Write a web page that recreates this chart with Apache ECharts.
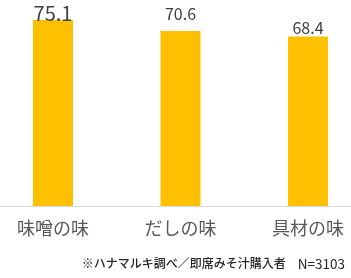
<!DOCTYPE html>
<html><head><meta charset="utf-8">
<script src="https://cdn.jsdelivr.net/npm/echarts@6/dist/echarts.min.js"></script>
<style>html,body{margin:0;padding:0;background:#fff}#c{width:351px;height:278px}</style>
</head><body><div id="c"></div>
<script>
const categories = ['味噌の味', 'だしの味', '具材の味'];
const values = [75.1, 70.6, 68.4];
const noteSource = '※ハナマルキ調べ／即席みそ汁購入者';
const noteN = 'N=3103';

const labelStyles = [
  {fontSize: 20, distance: -3},
  {fontSize: 16, distance: 9},
  {fontSize: 16, distance: 1}
];

const chart = echarts.init(document.getElementById('c'));
chart.setOption({
  animation: false,
  grid: {left: -10.75, width: 382.5, top: 7.8, bottom: 72, outerBoundsMode: 'none', containLabel: false},
  xAxis: {
    type: 'category', data: categories,
    axisLine: {lineStyle: {color: '#d9d9d9', width: 1}},
    axisTick: {show: false},
    axisLabel: {color: '#595959', fontSize: 18, margin: 13, fontFamily: 'Noto Sans CJK JP'}
  },
  yAxis: {type: 'value', min: 0, max: 80, show: false, splitLine: {show: false}},
  series: [{
    type: 'bar', barWidth: 40,
    itemStyle: {color: '#FFC000'},
    data: values.map((v, i) => ({
      value: v,
      label: {show: true, position: 'top', distance: labelStyles[i].distance,
        fontSize: labelStyles[i].fontSize, color: '#404040', fontFamily: 'Noto Sans CJK JP'}
    }))
  }],
  graphic: [{
    type: 'text', right: 6, top: 257,
    style: {
      text: '{a|' + noteSource + '}{b|    ' + noteN + '}',
      fill: '#262626',
      rich: {
        a: {fontSize: 12, fontFamily: 'Noto Sans CJK JP', fontWeight: 500, fill: '#262626', color: '#262626'},
        b: {fontSize: 13.5, fontFamily: 'Noto Sans CJK JP', fill: '#262626', color: '#262626'}
      }
    }
  }]
});
</script></body></html>
